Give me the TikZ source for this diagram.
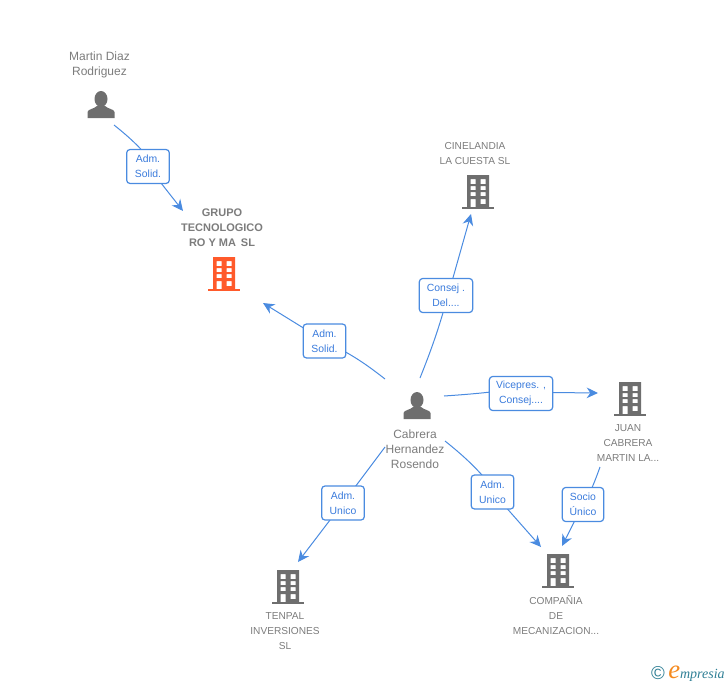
\documentclass[tikz,border=0pt]{standalone}
\usepackage{fontspec}
\setmainfont{Liberation Sans}
\newfontfamily\logofont{Liberation Serif}
\usetikzlibrary{arrows.meta}
\definecolor{linkblue}{HTML}{4A8BE0}
\definecolor{labelblue}{HTML}{3A7BDC}
\definecolor{textgrey}{HTML}{7C7C7C}
\definecolor{icongrey}{HTML}{6E6E6E}
\definecolor{mainorange}{HTML}{FF5A2B}
\definecolor{logoteal}{HTML}{2F7F95}
\definecolor{logoorange}{HTML}{F58A1F}
\begin{document}
\begin{tikzpicture}[x=0.75pt, y=-0.75pt,
        name text/.style={align=center, text=textgrey, inner sep=0pt, font=\fontsize{7.6}{11.25}\selectfont},
        person text/.style={name text, font=\fontsize{9}{11.25}\selectfont},
        main text/.style={name text, font=\fontsize{8.25}{11.25}\selectfont\bfseries},
        link box/.style={draw=linkblue, line width=0.9pt, fill=white, rounded corners=2.5pt, minimum height=25.5pt, align=center, inner sep=0pt, text=labelblue, font=\fontsize{7.8}{11.25}\selectfont},
        link/.style={draw=linkblue, line width=0.75pt},
        link arrow/.style={link, -{Stealth[length=8.5pt, width=8pt]}},
        pics/building/.style={code={
            \fill[#1, even odd rule] (-11,-17) rectangle (11,15)
                (-7.5,-13) rectangle (-2.5,-8) (2.5,-13) rectangle (7.5,-8)
                (-7.5,-6) rectangle (-2.5,-2) (2.5,-6) rectangle (7.5,-2)
                (-7.5,0) rectangle (-2.5,4) (2.5,0) rectangle (7.5,4)
                (-7.5,7) rectangle (-2.5,15) (2.5,7) rectangle (7.5,12);
            \fill[#1] (-16,14.5) rectangle (16,17);
        }},
        pics/person/.style={code={
            \fill[#1] (0,-6) ellipse (6.5 and 8);
            \fill[#1] (-13.5,13) -- (-13.5,7) .. controls (-13,4) and (-7,4) .. (-4,1) -- (4,1) .. controls (7,4) and (13,4) .. (13.5,7) -- (13.5,13) -- cycle;
        }}]
    \useasboundingbox (0,0) rectangle (728,685);
    % people
    \pic at (101,105) {person=icongrey};
    \pic at (417,406) {person=icongrey};
    \node[person text] (martin) at (99.5,65) {Martin Diaz\\Rodriguez};
    \node[person text] (cabrera) at (415,449.5) {Cabrera\\Hernandez\\Rosendo};
    % companies
    \pic at (224,274) {building=mainorange};
    \pic at (478,192) {building=icongrey};
    \pic at (630,399) {building=icongrey};
    \pic at (288,587) {building=icongrey};
    \pic at (558,571) {building=icongrey};
    \node[main text] (grupo) at (222,228) {GRUPO\\TECNOLOGICO\\RO Y MA\, SL};
    \node[name text] (cinelandia) at (475,153.5) {CINELANDIA\\LA CUESTA SL};
    \node[name text] (juan) at (628,443) {JUAN\\CABRERA\\MARTIN LA...};
    \node[name text] (tenpal) at (285,631) {TENPAL\\INVERSIONES\\SL};
    \node[name text] (compania) at (556,615) {COMPAÑIA\\DE\\MECANIZACION...};
    % free ends
    \coordinate (martin out) at (114,125);
    \coordinate (grupo in) at (183,211);
    \coordinate (cabrera a) at (385,379);
    \coordinate (grupo in2) at (263,303);
    \coordinate (cabrera b) at (420,378);
    \coordinate (cine in) at (471,214);
    \coordinate (cabrera c) at (444,396);
    \coordinate (juan in) at (598,393);
    \coordinate (cabrera d) at (445,441);
    \coordinate (comp in) at (541,547);
    \coordinate (juan out) at (600,467);
    \coordinate (comp in2) at (562,546);
    \coordinate (cabrera e) at (385,447);
    \coordinate (tenpal in) at (298,562);
    \coordinate (l1) at (148,166.5);
    \coordinate (l2) at (324.5,341);
    \coordinate (l3) at (446,295.5);
    \coordinate (l4) at (521,393.5);
    \coordinate (l5) at (492.5,492);
    \coordinate (l6) at (583,504.5);
    \coordinate (l7) at (343,503);
    % connectors, under the boxes
    \draw[link] (martin out) to [bend left=6] ([xshift=6pt]l1);
    \draw[link] (cabrera a) to [bend right=6] (l2);
    \draw[link] (cabrera b) to [bend right=3] ([xshift=1.5pt]l3);
    \draw[link] (cabrera c) to [bend right=2] ([yshift=4pt]l4);
    \draw[link] (cabrera d) to [bend left=6] ([xshift=3pt]l5);
    \draw[link] (juan out) to [bend left=3] ([xshift=1pt]l6);
    \draw[link] (cabrera e) -- (l7);
    \draw[link arrow] (l1) -- (grupo in);
    \draw[link arrow] (l2) -- (grupo in2);
    \draw[link arrow] ([xshift=1.5pt]l3) -- (cine in);
    \draw[link arrow] ([yshift=1pt]l4) -- (juan in);
    \draw[link arrow] (l5) -- (comp in);
    \draw[link arrow] (l6) -- (comp in2);
    \draw[link arrow] (l7) -- (tenpal in);
    % labels
    \node[link box, minimum width=32pt] (solid1) at (l1) {Adm.\\Solid.};
    \node[link box, minimum width=32pt] (solid2) at (l2) {Adm.\\Solid.};
    \node[link box, minimum width=40pt] (consej) at (l3) {Consej .\\Del....};
    \node[link box, minimum width=47.5pt] (vicepres) at (l4) {Vicepres. ,\\Consej....};
    \node[link box, minimum width=32pt] (unico1) at (l5) {Adm.\\Unico};
    \node[link box, minimum width=31pt] (socio) at (l6) {Socio\\Único};
    \node[link box, minimum width=32pt] (unico2) at (l7) {Adm.\\Unico};
    % logo
    \node[inner sep=0pt, text=logoteal, font=\fontsize{14}{14}\selectfont] (copy) at (658,673.5) {©};
    \node[inner sep=0pt, anchor=base west, font=\logofont\itshape\fontsize{10.5}{10}\selectfont, text=logoteal] (logo) at (668,678) {\textcolor{logoorange}{\fontsize{20}{20}\selectfont e}mpresia};
\end{tikzpicture}
\end{document}
